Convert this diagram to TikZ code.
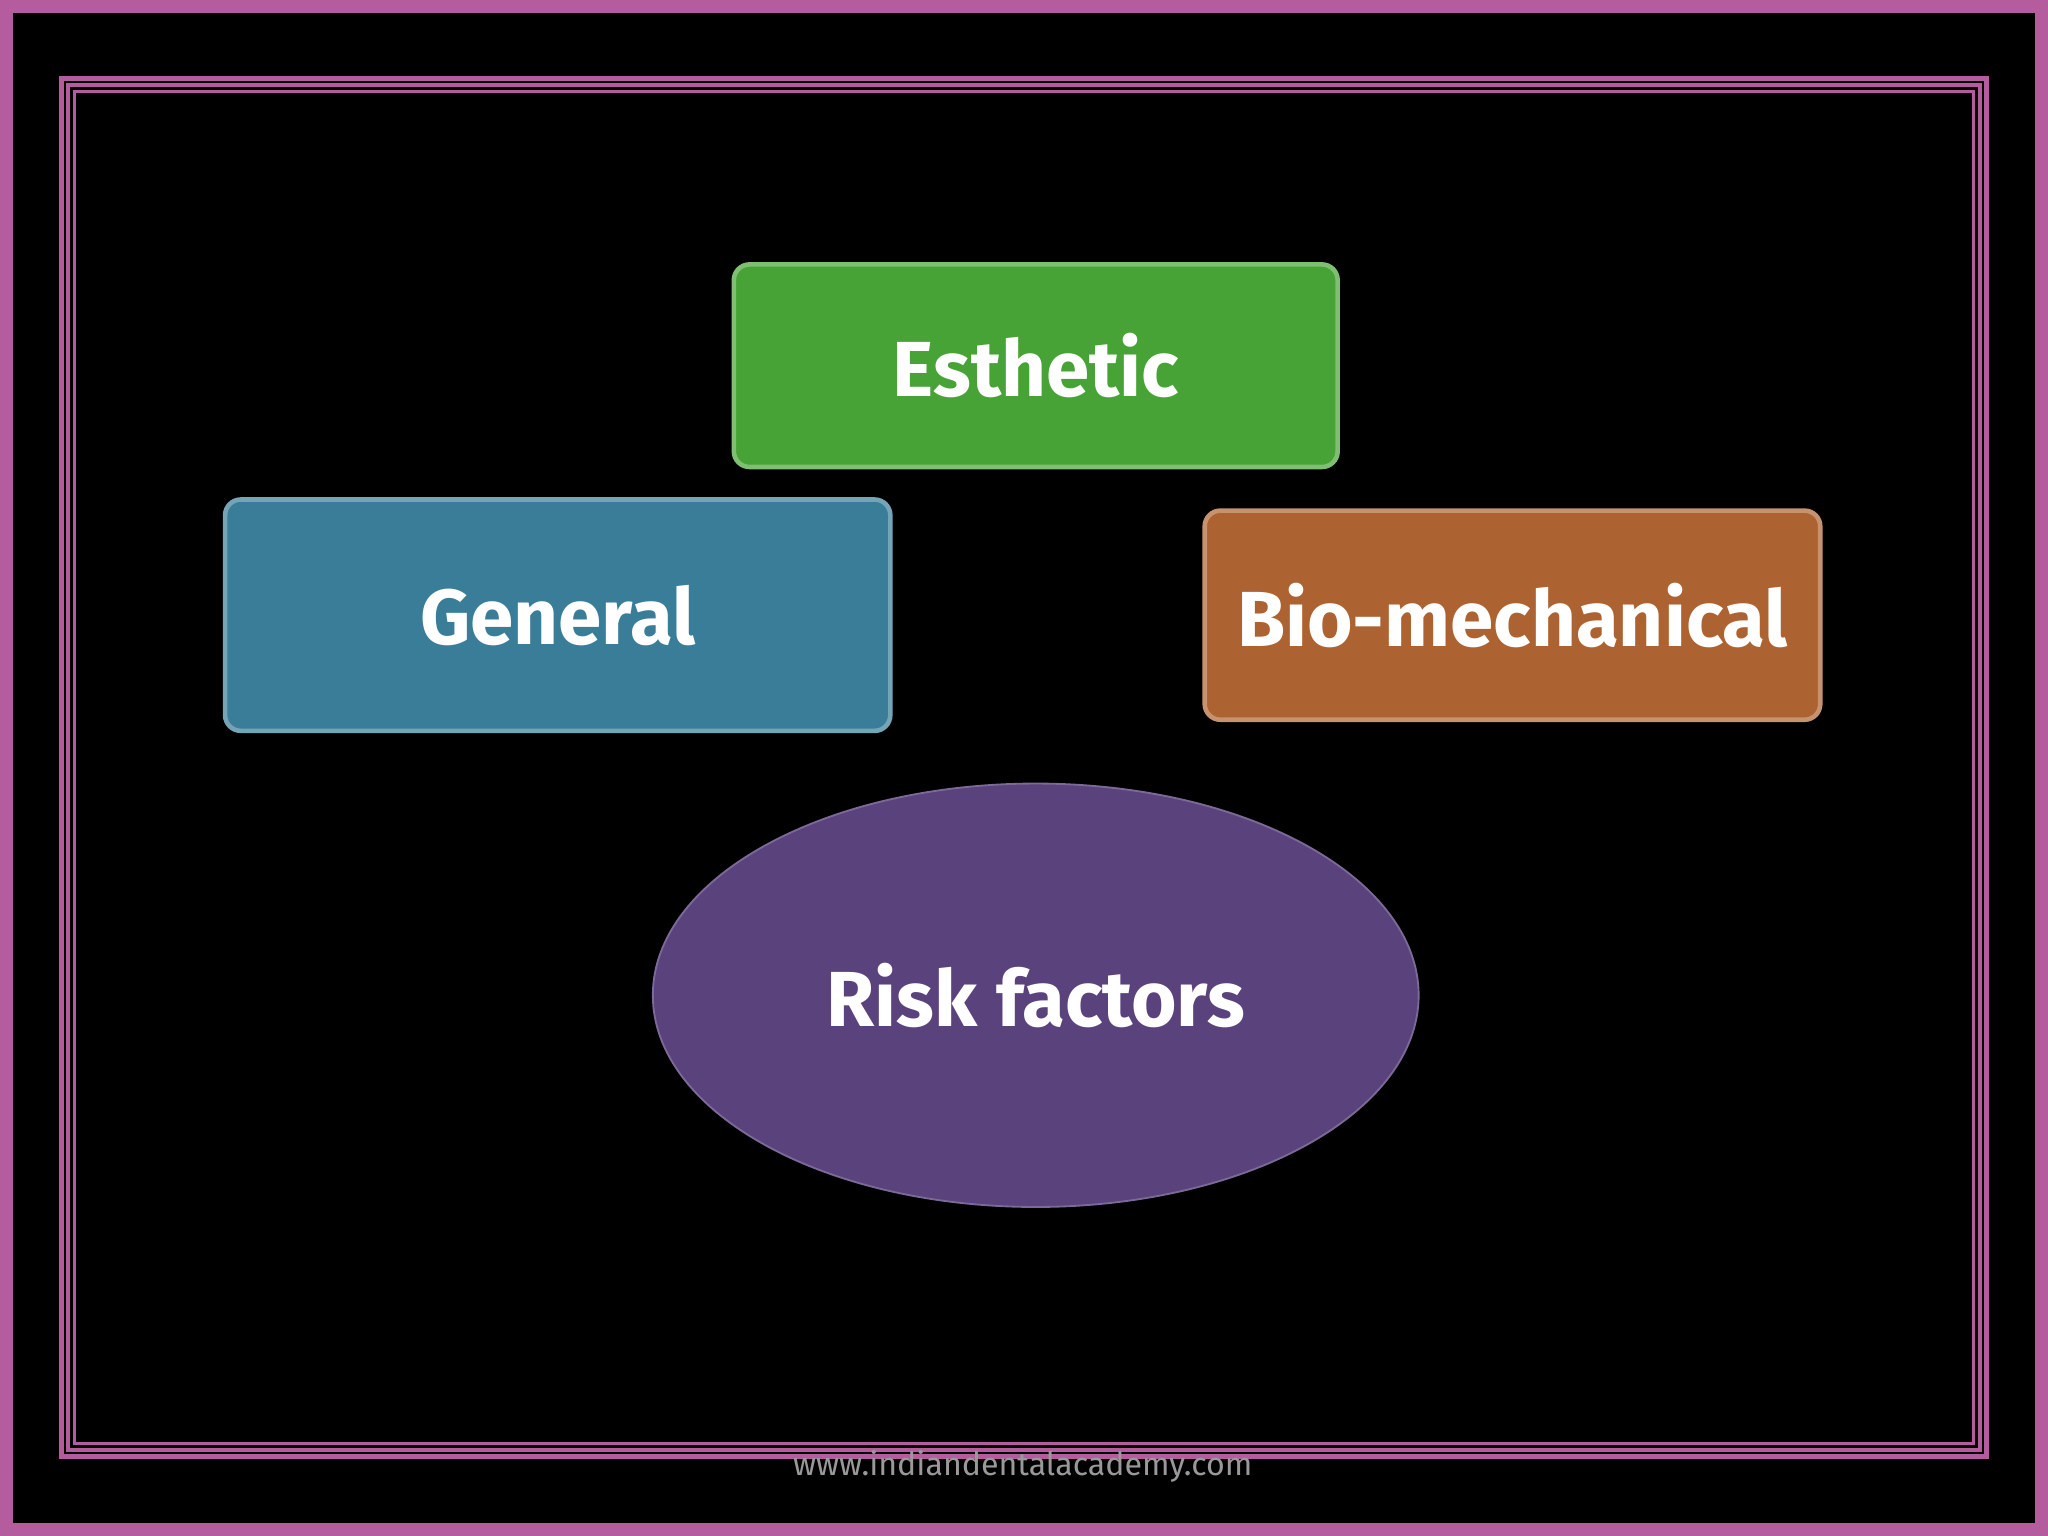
\documentclass[tikz,border=0pt]{standalone}
\usepackage{fontspec}
\setmainfont{Fira Sans}
\usetikzlibrary{arrows.meta,shapes.geometric}
\definecolor{frame}{HTML}{B55C9E}
\definecolor{gbox}{HTML}{47A335}
\definecolor{bbox}{HTML}{3A7D98}
\definecolor{obox}{HTML}{AD6331}
\definecolor{ell}{HTML}{5A437D}
\tikzset{
  box/.style={draw=#1!70!white, line width=1pt, fill=#1, rounded corners=0.12cm, inner sep=0pt},
  lbl/.style={text=white, font=\fontsize{17}{20}\selectfont\bfseries},
  bigarrow/.style={draw=none, line width=0.56cm, opacity=0.85, -{Triangle[length=0.45cm,width=0.95cm]}}
}
\begin{document}
\begin{tikzpicture}[x=0.01cm,y=-0.01cm]
\fill[frame] (0,0) rectangle (1568,1176);
\fill[black] (10,10) rectangle (1558,1166);
\draw[frame, line width=1.2pt] (47,60) rectangle (1521,1115);
\draw[frame, line width=0.8pt] (52,65) rectangle (1516,1110);
\draw[frame, line width=0.6pt] (57,70) rectangle (1511,1105);
% boxes
\node[box=gbox, minimum width=4.62cm, minimum height=1.55cm] (est) at (793,280) {};
\node[box=bbox, minimum width=5.09cm, minimum height=1.77cm] (gen) at (427,471) {};
\node[box=obox, minimum width=4.71cm, minimum height=1.60cm] (bio) at (1158,471) {};
\node[ellipse, draw=ell!80!white, fill=ell, minimum width=5.86cm, minimum height=3.24cm] (rf) at (793,762) {};
% arrows
\coordinate (ga) at (793,300); \coordinate (gb) at (793,580);
\coordinate (ba) at (428,488); \coordinate (bb) at (614,624);
\coordinate (oa) at (1160,487); \coordinate (ob) at (974,620);
\draw[bigarrow, color={rgb,255:red,88;green,200;blue,72}] (ga) -- (gb);
\draw[bigarrow, color={rgb,255:red,72;green,170;blue,205}] (ba) -- (bb);
\draw[bigarrow, color={rgb,255:red,225;green,125;blue,55}] (oa) -- (ob);
% labels
\node[lbl] at (est.center) {Esthetic};
\node[lbl] at (gen.center) {General};
\node[lbl] at (bio.center) {Bio-mechanical};
\node[lbl] at (rf.center) {Risk factors};
\node[text=gray!80, font=\fontsize{7}{8}\selectfont] (url) at (783,1123) {www.indiandentalacademy.com};
\end{tikzpicture}
\end{document}
